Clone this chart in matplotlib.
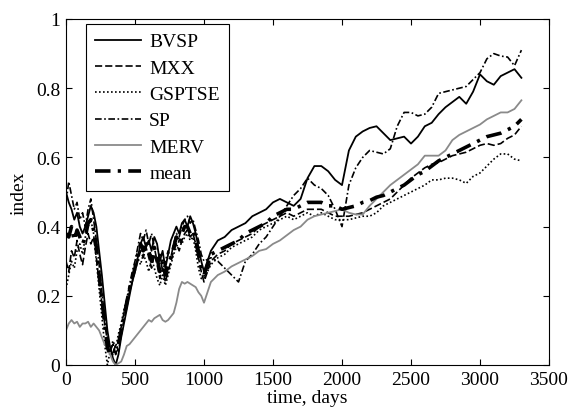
import matplotlib
matplotlib.use("Agg")
import matplotlib.pyplot as plt

# ---- data ----
days = list(range(0, 1000, 20)) + list(range(1000, 3301, 50))

BVSP = [0.50,0.47,0.45,0.42,0.44,0.40,0.38,0.40,0.43,0.46, 0.44,0.40,0.33,0.26,0.18,0.10,0.05,0.02,0.00,0.03,
        0.08,0.12,0.16,0.20,0.24,0.28,0.31,0.35,0.37,0.34, 0.36,0.33,0.37,0.35,0.30,0.33,0.28,0.32,0.36,0.38,
        0.40,0.38,0.41,0.42,0.40,0.43,0.41,0.38,0.34,0.30,
        0.27,0.33,0.36,0.37,0.39,0.40,0.41,0.43,0.44,0.45, 0.47,0.48,0.47,0.46,0.48,0.54,0.575,0.575,0.56,0.535,
        0.52,0.62,0.66,0.675,0.685,0.69,0.67,0.65,0.655,0.66, 0.64,0.66,0.69,0.70,0.725,0.745,0.76,0.775,0.755,0.79,
        0.84,0.82,0.81,0.835,0.845,0.855,0.83]

MXX = [0.30,0.27,0.33,0.31,0.36,0.32,0.29,0.34,0.38,0.35, 0.37,0.31,0.24,0.18,0.12,0.07,0.05,0.03,0.06,0.04,
       0.09,0.13,0.17,0.21,0.24,0.27,0.30,0.33,0.31,0.34, 0.31,0.28,0.32,0.29,0.25,0.28,0.24,0.27,0.30,0.33,
       0.35,0.33,0.36,0.38,0.39,0.37,0.38,0.35,0.31,0.27,
       0.24,0.30,0.32,0.33,0.35,0.36,0.37,0.38,0.40,0.41, 0.42,0.43,0.44,0.43,0.44,0.45,0.45,0.45,0.44,0.43,
       0.43,0.43,0.435,0.44,0.45,0.46,0.47,0.48,0.50,0.52, 0.54,0.555,0.57,0.58,0.585,0.595,0.605,0.61,0.615,0.625,
       0.635,0.64,0.635,0.64,0.655,0.665,0.69]

GSPTSE = [0.22,0.26,0.30,0.28,0.33,0.35,0.32,0.37,0.40,0.42, 0.38,0.30,0.22,0.14,0.06,0.00,0.04,0.07,0.05,0.09,
          0.12,0.16,0.19,0.22,0.25,0.28,0.31,0.29,0.32,0.30, 0.27,0.31,0.28,0.25,0.23,0.26,0.23,0.26,0.29,0.32,
          0.34,0.36,0.35,0.37,0.38,0.36,0.37,0.33,0.28,0.25,
          0.25,0.29,0.31,0.32,0.34,0.35,0.36,0.37,0.39,0.40, 0.41,0.42,0.43,0.42,0.43,0.44,0.43,0.44,0.43,0.42,
          0.42,0.42,0.425,0.43,0.43,0.44,0.46,0.47,0.48,0.49, 0.50,0.51,0.52,0.535,0.535,0.54,0.54,0.535,0.525,0.545,
          0.555,0.575,0.595,0.61,0.61,0.595,0.59]

SP = [0.47,0.53,0.49,0.45,0.47,0.42,0.44,0.40,0.45,0.48, 0.42,0.36,0.29,0.21,0.14,0.08,0.04,0.06,0.03,0.07,
      0.11,0.15,0.19,0.23,0.27,0.30,0.34,0.38,0.36,0.39, 0.35,0.38,0.34,0.30,0.32,0.27,0.30,0.33,0.31,0.35,
      0.38,0.37,0.40,0.42,0.43,0.41,0.42,0.39,0.36,0.32,
      0.30,0.31,0.30,0.28,0.26,0.24,0.30,0.32,0.35,0.37, 0.40,0.43,0.46,0.49,0.51,0.54,0.52,0.51,0.49,0.45,
      0.40,0.52,0.57,0.60,0.62,0.615,0.61,0.625,0.69,0.73, 0.73,0.72,0.725,0.745,0.785,0.79,0.795,0.80,0.805,0.825,
      0.845,0.885,0.90,0.893,0.89,0.865,0.91]

MERV = [0.10,0.12,0.13,0.12,0.125,0.11,0.12,0.12,0.125,0.11, 0.12,0.11,0.10,0.08,0.06,0.05,0.03,0.01,0.00,0.005,
        0.01,0.03,0.055,0.06,0.07,0.08,0.09,0.10,0.11,0.12, 0.13,0.125,0.135,0.14,0.145,0.13,0.125,0.13,0.14,0.15,
        0.18,0.22,0.24,0.235,0.24,0.235,0.23,0.225,0.21,0.20,
        0.18,0.24,0.26,0.27,0.285,0.295,0.305,0.315,0.33,0.335, 0.35,0.36,0.375,0.39,0.40,0.42,0.43,0.435,0.44,0.445,
        0.45,0.44,0.435,0.435,0.46,0.48,0.50,0.52,0.535,0.55, 0.565,0.58,0.605,0.605,0.605,0.62,0.65,0.665,0.675,0.685,
        0.695,0.71,0.72,0.73,0.73,0.74,0.765]

MEAN = [0.38,0.37,0.40,0.36,0.39,0.37,0.35,0.37,0.41,0.42, 0.39,0.34,0.26,0.19,0.12,0.05,0.03,0.04,0.04,0.06,
        0.10,0.14,0.18,0.22,0.25,0.28,0.32,0.35,0.33,0.36, 0.33,0.30,0.34,0.31,0.27,0.30,0.26,0.29,0.31,0.34,
        0.37,0.35,0.38,0.40,0.40,0.38,0.39,0.36,0.32,0.28,
        0.26,0.32,0.33,0.34,0.35,0.36,0.38,0.39,0.40,0.41, 0.43,0.44,0.45,0.45,0.46,0.47,0.47,0.47,0.46,0.46,
        0.45,0.455,0.46,0.47,0.475,0.485,0.49,0.50,0.51,0.52, 0.535,0.55,0.56,0.575,0.59,0.60,0.61,0.62,0.63,0.64,
        0.65,0.66,0.665,0.67,0.68,0.69,0.71]

x_ticks = [0, 500, 1000, 1500, 2000, 2500, 3000, 3500]
y_ticks = [0, 0.2, 0.4, 0.6, 0.8, 1]
y_tick_labels = ["0", "0.2", "0.4", "0.6", "0.8", "1"]

# ---- figure ----
plt.rcParams['font.family'] = ['Liberation Serif', 'DejaVu Serif']
plt.rcParams['font.size'] = 14

fig = plt.figure(figsize=(5.7, 4.14), dpi=100)
ax = fig.add_axes([66/570, 1-366/414, (549-66)/570, (366-20)/414])

ax.plot(days, BVSP, color='black', lw=1.3, ls='-', label='BVSP')
ax.plot(days, MXX, color='black', lw=1.2, ls=(0, (4.3, 1.8)), label='MXX')
ax.plot(days, GSPTSE, color='black', lw=1.2, ls=(0, (1.0, 1.4)), label='GSPTSE')
ax.plot(days, SP, color='black', lw=1.2, ls=(0, (4.0, 1.5, 1.0, 1.5)), label='SP')
ax.plot(days, MERV, color='#8a8a8a', lw=1.3, ls='-', label='MERV')
ax.plot(days, MEAN, color='black', lw=2.6, ls=(0, (4.3, 2.0, 0.9, 2.0)), label='mean')

ax.set_xlim(0, 3500)
ax.set_ylim(0, 1)
ax.set_xticks(x_ticks)
ax.set_xticklabels([str(v) for v in x_ticks])
ax.set_yticks(y_ticks)
ax.set_yticklabels(y_tick_labels)
ax.tick_params(direction='in', top=True, right=True, length=4, width=0.8, pad=4)
for s in ax.spines.values():
    s.set_linewidth(0.8)

ax.set_xlabel('time, days', labelpad=1)
ax.set_ylabel('index', labelpad=6)

leg = ax.legend(loc='upper left', bbox_to_anchor=(20/483, 1-5/346), borderaxespad=0,
                fancybox=False, framealpha=1, edgecolor='black', handlelength=2.4,
                handletextpad=0.4, labelspacing=0.45, borderpad=0.45)
leg.get_frame().set_linewidth(0.8)

fig.savefig('out.png', dpi=100)
